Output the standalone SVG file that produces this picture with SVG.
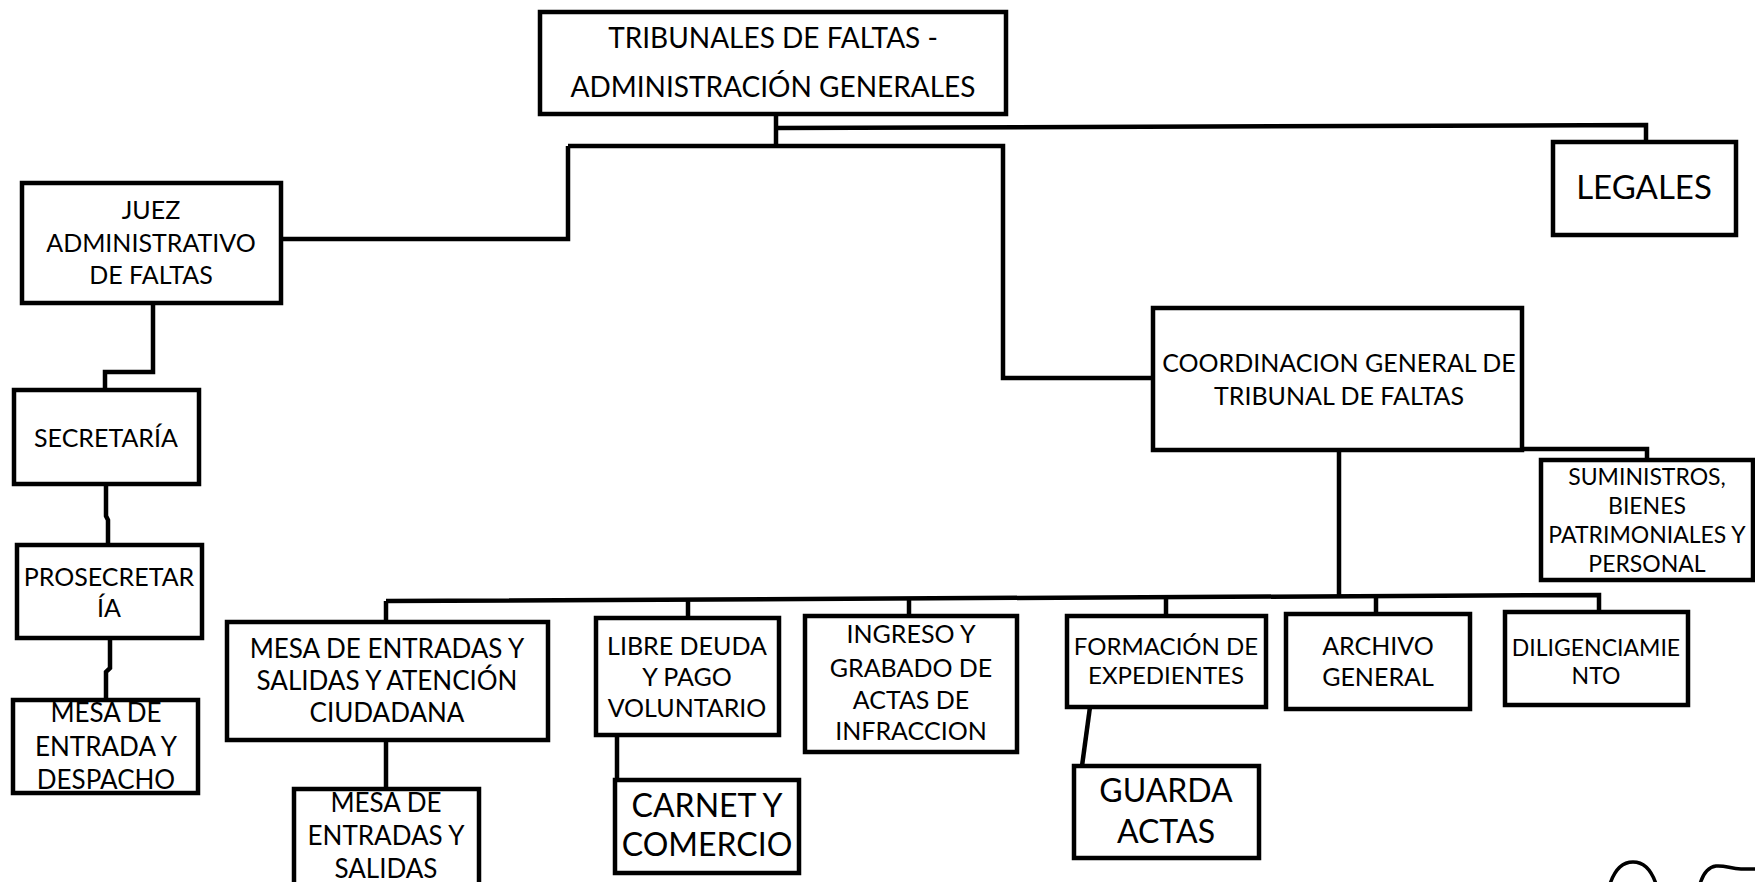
<svg xmlns="http://www.w3.org/2000/svg" width="1755" height="882" viewBox="0 0 1755 882">
<style>
.box{fill:none;stroke:#000;stroke-width:4.5}
.ln{fill:none;stroke:#000;stroke-width:4.5;stroke-linejoin:miter}
text{font-family:Lato,"Open Sans","Liberation Sans",sans-serif;fill:#000;text-anchor:middle}
.n{font-size:25px}
.m{font-size:26px}
.s{font-size:23px}
.l{font-size:32px}
</style>
<rect width="1755" height="882" fill="#fff"/>
<g id="connectors">
<path class="ln" d="M776 114 V146"/>
<path class="ln" d="M568 146 H1003 V378 H1153"/>
<path class="ln" d="M568 146 V239 H281"/>
<path class="ln" d="M776 128 L1646 125 V142"/>
<path class="ln" d="M153 303 V372 H105 V390"/>
<path class="ln" d="M106 484 V516 L108 520 V546"/>
<path class="ln" d="M110 637 V668 L106 672 V700"/>
<path class="ln" d="M1339 450 V598"/>
<path class="ln" d="M386 601 L1599 595 V612"/>
<path class="ln" d="M386 601 V622"/>
<path class="ln" d="M688 600 V618"/>
<path class="ln" d="M909 599 V616"/>
<path class="ln" d="M1166 598 V616"/>
<path class="ln" d="M1376 597 V614"/>
<path class="ln" d="M1522 449 H1647 V460"/>
<path class="ln" d="M386 740 V789"/>
<path class="ln" d="M617 735 V780"/>
<path class="ln" d="M1090 707 L1082 766"/>
</g>
<g id="n-top">
<text x="773" y="48" style="font-size:28px">TRIBUNALES DE FALTAS -</text>
<text x="773" y="97" style="font-size:28px">ADMINISTRACIÓN GENERALES</text>
<rect class="box" x="540" y="12" width="466" height="102"/>
</g>
<g id="n-legales">
<text x="1644" y="199" style="font-size:33px">LEGALES</text>
<rect class="box" x="1553" y="142" width="183" height="93"/>
</g>
<g id="n-juez">
<text class="n" x="151" y="219">JUEZ</text>
<text class="n" x="151" y="252">ADMINISTRATIVO</text>
<text class="n" x="151" y="284">DE FALTAS</text>
<rect class="box" x="22" y="183" width="259" height="120"/>
</g>
<g id="n-secretaria">
<text class="n" x="106" y="447">SECRETARÍA</text>
<rect class="box" x="14" y="390" width="185" height="94"/>
</g>
<g id="n-prosecretaria">
<text class="n" x="109" y="586">PROSECRETAR</text>
<text class="n" x="109" y="617">ÍA</text>
<rect class="box" x="17" y="545" width="185" height="93"/>
</g>
<g id="n-mesa-despacho">
<text class="m" x="106" y="722">MESA DE</text>
<text class="m" x="106" y="756">ENTRADA Y</text>
<text class="m" x="106" y="789">DESPACHO</text>
<rect class="box" x="13" y="700" width="185" height="93"/>
</g>
<g id="n-mesa-atencion">
<text class="m" x="387" y="658">MESA DE ENTRADAS Y</text>
<text class="m" x="387" y="690">SALIDAS Y ATENCIÓN</text>
<text class="m" x="387" y="722">CIUDADANA</text>
<rect class="box" x="227" y="622" width="321" height="118"/>
</g>
<g id="n-mesa-salidas">
<text class="m" x="386" y="812">MESA DE</text>
<text class="m" x="386" y="845">ENTRADAS Y</text>
<text class="m" x="386" y="878">SALIDAS</text>
<rect class="box" x="294" y="789" width="185" height="110"/>
</g>
<g id="n-libre">
<text class="n" x="687" y="655">LIBRE DEUDA</text>
<text class="n" x="687" y="686">Y PAGO</text>
<text class="n" x="687" y="717">VOLUNTARIO</text>
<rect class="box" x="596" y="618" width="183" height="117"/>
</g>
<g id="n-carnet">
<text class="l" x="707" y="817">CARNET Y</text>
<text class="l" x="707" y="856">COMERCIO</text>
<rect class="box" x="615" y="780" width="184" height="93"/>
</g>
<g id="n-ingreso">
<text class="n" x="911" y="643">INGRESO Y</text>
<text class="n" x="911" y="677">GRABADO DE</text>
<text class="n" x="911" y="709">ACTAS DE</text>
<text class="n" x="911" y="740">INFRACCION</text>
<rect class="box" x="805" y="616" width="212" height="136"/>
</g>
<g id="n-formacion">
<text class="s" x="1166" y="655" style="font-size:24px">FORMACIÓN DE</text>
<text class="s" x="1166" y="684" style="font-size:24px">EXPEDIENTES</text>
<rect class="box" x="1067" y="616" width="199" height="91"/>
</g>
<g id="n-guarda">
<text class="l" x="1166" y="802">GUARDA</text>
<text class="l" x="1166" y="843">ACTAS</text>
<rect class="box" x="1074" y="766" width="185" height="92"/>
</g>
<g id="n-archivo">
<text class="n" x="1378" y="655">ARCHIVO</text>
<text class="n" x="1378" y="686">GENERAL</text>
<rect class="box" x="1286" y="614" width="184" height="95"/>
</g>
<g id="n-diligenciamiento">
<text class="s" x="1596" y="656">DILIGENCIAMIE</text>
<text class="s" x="1596" y="684">NTO</text>
<rect class="box" x="1505" y="612" width="183" height="93"/>
</g>
<g id="n-suministros">
<text class="s" x="1647" y="485">SUMINISTROS,</text>
<text class="s" x="1647" y="514">BIENES</text>
<text class="s" x="1647" y="543">PATRIMONIALES Y</text>
<text class="s" x="1647" y="572">PERSONAL</text>
<rect class="box" x="1541" y="460" width="212" height="120"/>
</g>
<g id="n-coordinacion">
<text class="n" x="1339" y="372">COORDINACION GENERAL DE</text>
<text class="n" x="1339" y="405">TRIBUNAL DE FALTAS</text>
<rect class="box" x="1153" y="308" width="369" height="142"/>
</g>
<g id="marks">
<path class="ln" style="stroke-width:3.5" d="M1610 884 C1615 869 1622 862 1633 862 C1645 862 1652 872 1656 884"/>
<path class="ln" style="stroke-width:3.5" d="M1700 884 C1703 874 1708 867 1716 866 C1725 865 1731 869 1741 869 L1755 869"/>
</g>
</svg>
